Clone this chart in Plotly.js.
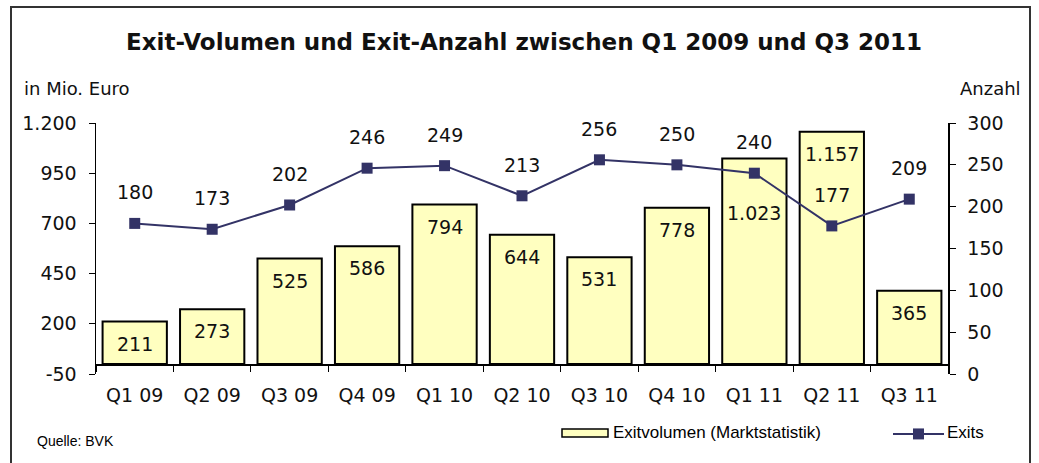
<!DOCTYPE html>
<html>
<head>
<meta charset="utf-8">
<script src="https://cdn.plot.ly/plotly-3.0.1.min.js"></script>
<style>
html,body{margin:0;padding:0;background:#fff;}
#chart{width:1039px;height:463px;}
</style>
</head>
<body>
<div id="chart"></div>
<script>
const categories = ["Q1 09","Q2 09","Q3 09","Q4 09","Q1 10","Q2 10","Q3 10","Q4 10","Q1 11","Q2 11","Q3 11"];
const exitVolumen = [211, 273, 525, 586, 794, 644, 531, 778, 1023, 1157, 365];
const exitAnzahl = [180, 173, 202, 246, 249, 213, 256, 250, 240, 177, 209];
const leftTickVals = [-50, 200, 450, 700, 950, 1200];
const leftTickText = ["-50", "200", "450", "700", "950", "1.200"];
const rightTickVals = [0, 50, 100, 150, 200, 250, 300];

const W = 1039, H = 463;
const L = 96, R = 948, T = 122.7, B = 374;
const pw = R - L, ph = B - T;
const px = x => (x - L) / pw;
const py = y => (B - y) / ph;

const FONT = "DejaVu Sans, sans-serif";
const ARIAL = "Liberation Sans, Arial, sans-serif";
const fmt = v => v.toLocaleString('de-DE');

const barTrace = {
  type: 'bar', x: categories, y: exitVolumen, yaxis: 'y',
  marker: {color: '#FFFFC0', line: {color: '#000', width: 2}},
  width: 0.83, hoverinfo: 'skip', showlegend: false
};
const lineTrace = {
  type: 'scatter', mode: 'lines+markers', x: categories, y: exitAnzahl, yaxis: 'y2',
  line: {color: '#333366', width: 2},
  marker: {symbol: 'square', size: 11, color: '#333366'},
  hoverinfo: 'skip', showlegend: false
};

const annotations = [];
exitVolumen.forEach((v, i) => {
  annotations.push({
    x: categories[i], y: v, xref: 'x', yref: 'y', text: fmt(v), showarrow: false,
    yshift: (i === 8 ? -54 : -22), yanchor: 'middle', xanchor: 'center',
    font: {family: FONT, size: 19, color: '#111'}
  });
});
exitAnzahl.forEach((v, i) => {
  annotations.push({
    x: categories[i], y: v, xref: 'x', yref: 'y2', text: fmt(v), showarrow: false,
    yshift: 31, yanchor: 'middle', xanchor: 'center',
    font: {family: FONT, size: 19, color: '#111'}
  });
});
annotations.push({xref: 'paper', yref: 'paper', x: px(22), y: py(88), xanchor: 'left', yanchor: 'middle',
  text: 'in Mio. Euro', showarrow: false, font: {family: FONT, size: 18, color: '#111'}});
annotations.push({xref: 'paper', yref: 'paper', x: px(1023), y: py(88), xanchor: 'right', yanchor: 'middle',
  text: 'Anzahl', showarrow: false, font: {family: FONT, size: 18, color: '#111'}});
annotations.push({xref: 'paper', yref: 'paper', x: px(35), y: py(441), xanchor: 'left', yanchor: 'middle',
  text: 'Quelle: BVK', showarrow: false, font: {family: ARIAL, size: 14, color: '#000'}});
annotations.push({xref: 'paper', yref: 'paper', x: px(611), y: py(433), xanchor: 'left', yanchor: 'middle',
  text: 'Exitvolumen (Marktstatistik)', showarrow: false, font: {family: ARIAL, size: 17, color: '#000'}});
annotations.push({xref: 'paper', yref: 'paper', x: px(945), y: py(433), xanchor: 'left', yanchor: 'middle',
  text: 'Exits', showarrow: false, font: {family: ARIAL, size: 17, color: '#000'}});

const shapes = [
  {type: 'rect', xref: 'paper', yref: 'paper', x0: px(11), x1: px(1030), y0: py(480), y1: py(6.5),
   line: {color: '#333', width: 2}, fillcolor: 'rgba(0,0,0,0)', layer: 'below'},
  {type: 'rect', xref: 'paper', yref: 'paper', x0: px(562), x1: px(608), y0: py(437), y1: py(429),
   line: {color: '#000', width: 1.5}, fillcolor: '#FFFFC0'},
  {type: 'line', xref: 'paper', yref: 'paper', x0: px(893), x1: px(944), y0: py(434), y1: py(434),
   line: {color: '#333366', width: 2}},
  {type: 'rect', xref: 'paper', yref: 'paper', x0: px(913), x1: px(924), y0: py(439.5), y1: py(428.5),
   line: {color: '#333366', width: 0}, fillcolor: '#333366'}
];

const layout = {
  width: W, height: H,
  margin: {l: L, r: W - R, t: T, b: H - B, pad: 0},
  paper_bgcolor: '#fff', plot_bgcolor: 'rgba(0,0,0,0)',
  separators: ',.',
  font: {family: FONT, size: 19, color: '#111'},
  title: {text: '<b>Exit-Volumen und Exit-Anzahl zwischen Q1 2009 und Q3 2011</b>',
    x: 524 / W, xanchor: 'center', y: 1 - 42 / H, yanchor: 'middle', xref: 'container', yref: 'container',
    font: {family: FONT, size: 23, color: '#111'}},
  xaxis: {
    type: 'category', range: [-0.5, 10.5], anchor: 'free', position: 10 / ph,
    showline: true, linecolor: '#000', linewidth: 1.5,
    ticks: 'outside', ticklen: 6, tickcolor: '#000', tickwidth: 1, tickson: 'boundaries',
    showgrid: false, zeroline: false, ticklabelstandoff: 14,
    tickfont: {family: FONT, size: 19, color: '#111'}, fixedrange: true
  },
  yaxis: {
    range: [-50, 1200], tickmode: 'array', tickvals: leftTickVals, ticktext: leftTickText,
    showline: true, linecolor: '#000', linewidth: 1.5,
    ticks: 'outside', ticklen: 6, tickcolor: '#000', tickwidth: 1,
    showgrid: false, zeroline: false, ticklabelstandoff: 8,
    tickfont: {family: FONT, size: 19, color: '#111'}, fixedrange: true
  },
  yaxis2: {
    range: [0, 300], tickmode: 'array', tickvals: rightTickVals, overlaying: 'y', side: 'right', anchor: 'x',
    showline: true, linecolor: '#000', linewidth: 1.5,
    ticks: 'outside', ticklen: 6, tickcolor: '#000', tickwidth: 1,
    showgrid: false, zeroline: false, ticklabelstandoff: 8,
    tickfont: {family: FONT, size: 19, color: '#111'}, fixedrange: true
  },
  bargap: 0.17,
  annotations: annotations,
  shapes: shapes
};

Plotly.newPlot('chart', [barTrace, lineTrace], layout, {displayModeBar: false, staticPlot: true});
</script>
</body>
</html>
